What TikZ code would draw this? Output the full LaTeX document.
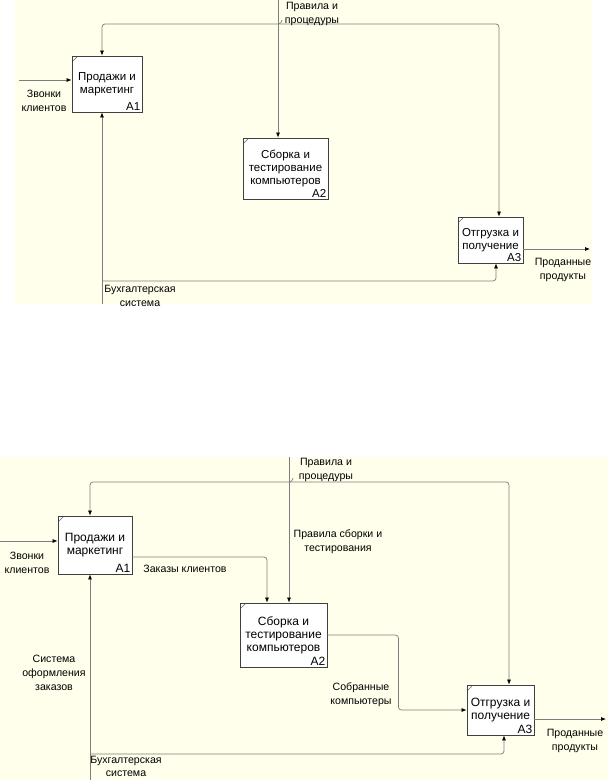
\documentclass[tikz,border=0pt]{standalone}
\usepackage{fontspec}
\setmainfont{Liberation Sans}
\definecolor{idefbg}{RGB}{255,255,236}
\definecolor{idefline}{RGB}{125,125,125}
\usetikzlibrary{arrows.meta}

\begin{document}
\begin{tikzpicture}[x=1pt,y=-1pt,
  box/.style={draw=black!75,fill=white,line width=0.8pt,inner sep=1pt,align=center,font=\fontsize{11.5}{13}\selectfont,
    path picture={\draw[black!60,line width=0.6pt] ([yshift=-6pt]path picture bounding box.north west) -- ([xshift=6pt]path picture bounding box.north west);}},
  num/.style={anchor=south east,inner sep=2pt,font=\fontsize{11.5}{13}\selectfont},
  lbl/.style={font=\fontsize{10.6}{14}\selectfont,align=center,inner sep=0pt},
  flow/.style={draw=idefline,line width=0.7pt,rounded corners=3pt,-{Latex[length=5pt,width=4pt,color=black]}},
  tick/.style={draw=idefline,line width=0.7pt}]

  \useasboundingbox (0,0) rectangle (608,780);
  \fill[idefbg] (15,0) rectangle (592,304);
  \fill[idefbg] (0,457) rectangle (608,780);

  % upper diagram
  \node[box,minimum width=70pt,minimum height=56pt,label={[num]south east:A1}] (a1t) at (107,84) {Продажи и\\маркетинг};
  \node[box,minimum width=85pt,minimum height=61pt,label={[num]south east:A2}] (a2t) at (285.5,168.5) {Сборка и\\тестирование\\компьютеров};
  \node[box,minimum width=65pt,minimum height=46pt,label={[num]south east:A3}] (a3t) at (490.5,240) {Отгрузка и\\получение};
  \coordinate (ct) at (278,0);
  \coordinate (cjt) at (278,24);
  \coordinate (it) at (19,80);
  \coordinate (ot) at (590,249);
  \coordinate (mt) at (102,304);
  \coordinate (mjt) at (102,281);
  \draw[flow] (ct) -- (ct |- a2t.north);
  \draw[flow] (cjt) -| ([xshift=-5pt]a1t.north);
  \draw[flow] (cjt) -| ([xshift=8.5pt]a3t.north);
  \draw[tick] (cjt) to[out=0,in=-90] ++(4,-4);
  \draw[flow] (it) -- (it -| a1t.west);
  \draw[flow] (a3t.east |- ot) -- (ot);
  \draw[flow] (mt) -- (mt |- a1t.south);
  \draw[flow] (mjt) -| ([xshift=5.5pt]a3t.south);
  \node[lbl] (lct) at (312,14) {Правила и\\процедуры};
  \node[lbl] (lit) at (44,101) {Звонки\\клиентов};
  \node[lbl] (lot) at (563,270) {Проданные\\продукты};
  \node[lbl] (lmt) at (140,296) {Бухгалтерская\\система};

  % lower diagram
  \node[box,minimum width=74pt,minimum height=58pt,font=\fontsize{12}{13}\selectfont,label={[num,font=\fontsize{12}{13}\selectfont]south east:A1}] (a1b) at (95,545) {Продажи и\\маркетинг};
  \node[box,minimum width=87pt,minimum height=64pt,font=\fontsize{12}{13}\selectfont,label={[num,font=\fontsize{12}{13}\selectfont]south east:A2}] (a2b) at (283.5,635) {Сборка и\\тестирование\\компьютеров};
  \node[box,minimum width=67pt,minimum height=50pt,font=\fontsize{12}{13}\selectfont,label={[num,font=\fontsize{12}{13}\selectfont]south east:A3}] (a3b) at (500.5,710) {Отгрузка и\\получение};
  \coordinate (cb) at (289,457);
  \coordinate (cjb) at (289,482);
  \coordinate (ib) at (0,541);
  \coordinate (ob) at (606,719);
  \coordinate (mb) at (90,780);
  \coordinate (mjb) at (90,754);
  \draw[flow] (cb) -- (cb |- a2b.north);
  \draw[flow] (cjb) -| ([xshift=-5pt]a1b.north);
  \draw[flow] (cjb) -| ([xshift=8.5pt]a3b.north);
  \draw[tick] (cjb) to[out=0,in=-90] ++(4,-4);
  \draw[flow] (ib) -- (ib -| a1b.west);
  \draw[flow] ([yshift=-12pt]a1b.east) -| ([xshift=-16.5pt]a2b.north);
  \draw[flow] (a2b.east) -- ++(71,0) |- (a3b.west);
  \draw[flow] (a3b.east |- ob) -- (ob);
  \draw[flow] (mb) -- (mb |- a1b.south);
  \draw[flow] (mjb) -| ([xshift=3.5pt]a3b.south);
  \node[lbl] (lcb) at (326,470) {Правила и\\процедуры};
  \node[lbl] (lrb) at (338,541.5) {Правила сборки и\\тестирования};
  \node[lbl] (lzb) at (185,569) {Заказы клиентов};
  \node[lbl] (lib) at (27,562.5) {Звонки\\клиентов};
  \node[lbl] (lsb) at (361,695) {Собранные\\компьютеры};
  \node[lbl] (lob) at (575,741) {Проданные\\продукты};
  \node[lbl,font=\fontsize{10.6}{13}\selectfont] (lmb) at (126,766.5) {Бухгалтерская\\система};
  \node[lbl] (lyb) at (54,673) {Система\\оформления\\заказов};
\end{tikzpicture}
\end{document}
